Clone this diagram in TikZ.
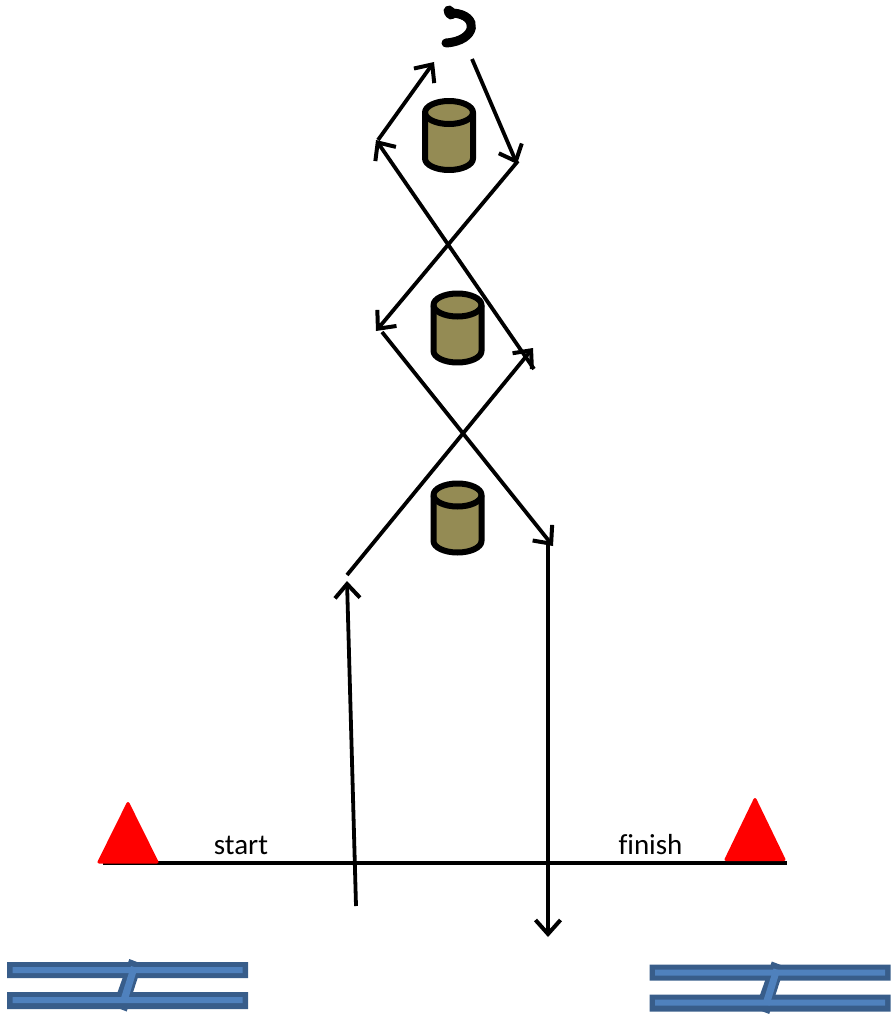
\documentclass[tikz,border=0pt]{standalone}
\usepackage{fontspec}
\setmainfont[Ligatures=NoCommon]{Carlito}
\usetikzlibrary{arrows.meta}
\definecolor{can}{HTML}{948B54}
\definecolor{bardark}{HTML}{385D8A}
\definecolor{barlight}{HTML}{4F81BD}
\definecolor{conered}{HTML}{FF0000}
\tikzset{
  flow/.style={draw=black,line width=3.8pt,-{Straight Barb[length=14pt,width=25pt,line width=4pt]}},
  plain/.style={draw=black,line width=3.6pt},
  cone/.style={fill=conered,draw=conered,line width=3pt,line join=round},
  label/.style={font=\fontsize{29}{32}\selectfont,text=black,inner sep=0pt},
  pics/canister/.style={code={
    \draw[fill=can,line width=6pt,draw=black,line join=round]
      (-24,-23) -- (-24,23) arc[start angle=180,end angle=0,x radius=24,y radius=11.5] -- (24,-23) arc[start angle=0,end angle=-180,x radius=24,y radius=11.5] -- cycle;
    \draw[line width=6pt,draw=black] (-24,-23) arc[start angle=180,end angle=0,x radius=24,y radius=11.5];
  }},
  pics/notequal/.style={code={
    \fill[bardark] (7,962) rectangle (248,978) (7,992) rectangle (248,1009);
    \fill[bardark] (129.3,959) -- (142.3,964) -- (126.7,1011.5) -- (112.7,1006) -- cycle;
    \fill[barlight] (12.7,967) rectangle (242.7,973) (12.7,997) rectangle (242.7,1003);
    \fill[barlight] (131,966) -- (137.5,968) -- (127,1003) -- (120,1001) -- cycle;
  }}
}
\begin{document}
\begin{tikzpicture}[x=1pt,y=-1pt]
\useasboundingbox (0,0) rectangle (891,1014);
% route points
\coordinate (a0) at (356,906);
\coordinate (a1) at (347,581);
\coordinate (b0) at (347,575);
\coordinate (b1) at (533,348);
\coordinate (c0) at (534,369);
\coordinate (c1) at (376,140);
\coordinate (d0) at (378,140);
\coordinate (d1) at (434,62);
\coordinate (e0) at (472,59);
\coordinate (e1) at (517,164);
\coordinate (f0) at (518,161);
\coordinate (f1) at (376,331);
\coordinate (g0) at (382,332);
\coordinate (g1) at (553,546);
\coordinate (h0) at (548,544);
\coordinate (h1) at (548,937);
\coordinate (lineL) at (103,863);
\coordinate (lineR) at (787,863);
% base line
\draw[plain] (lineL) -- (lineR);
% cones
\draw[cone] (128,803.5) -- (99,862) -- (157,862) -- cycle;
\draw[cone] (755,799.5) -- (726,859.5) -- (784,859.5) -- cycle;
\node[label,anchor=base] (start) at (241,854) {start};
\node[label,anchor=base] (finish) at (650.5,854) {finish};
% canisters
\pic at (449,135.5) {canister};
\pic at (457.5,328) {canister};
\pic at (457.5,518) {canister};
% connectors
\draw[flow] (a0) -- (a1);
\draw[flow] (b0) -- (b1);
\draw[flow] (c0) -- (c1);
\draw[flow] (d0) -- (d1);
\draw[flow] (e0) -- (e1);
\draw[flow] (f0) -- (f1);
\draw[flow] (g0) -- (g1);
\draw[flow] (h0) -- (h1);
% turnaround mark
\draw[line width=9pt,draw=black,line cap=round] (446,43) .. controls (477,41) and (480,15) .. (453,13);
\draw[line width=11pt,draw=black,line cap=round] (449,11) -- (451,14);
% bars
\pic at (0,0) {notequal};
\pic at (642.5,2.5) {notequal};
\end{tikzpicture}
\end{document}
